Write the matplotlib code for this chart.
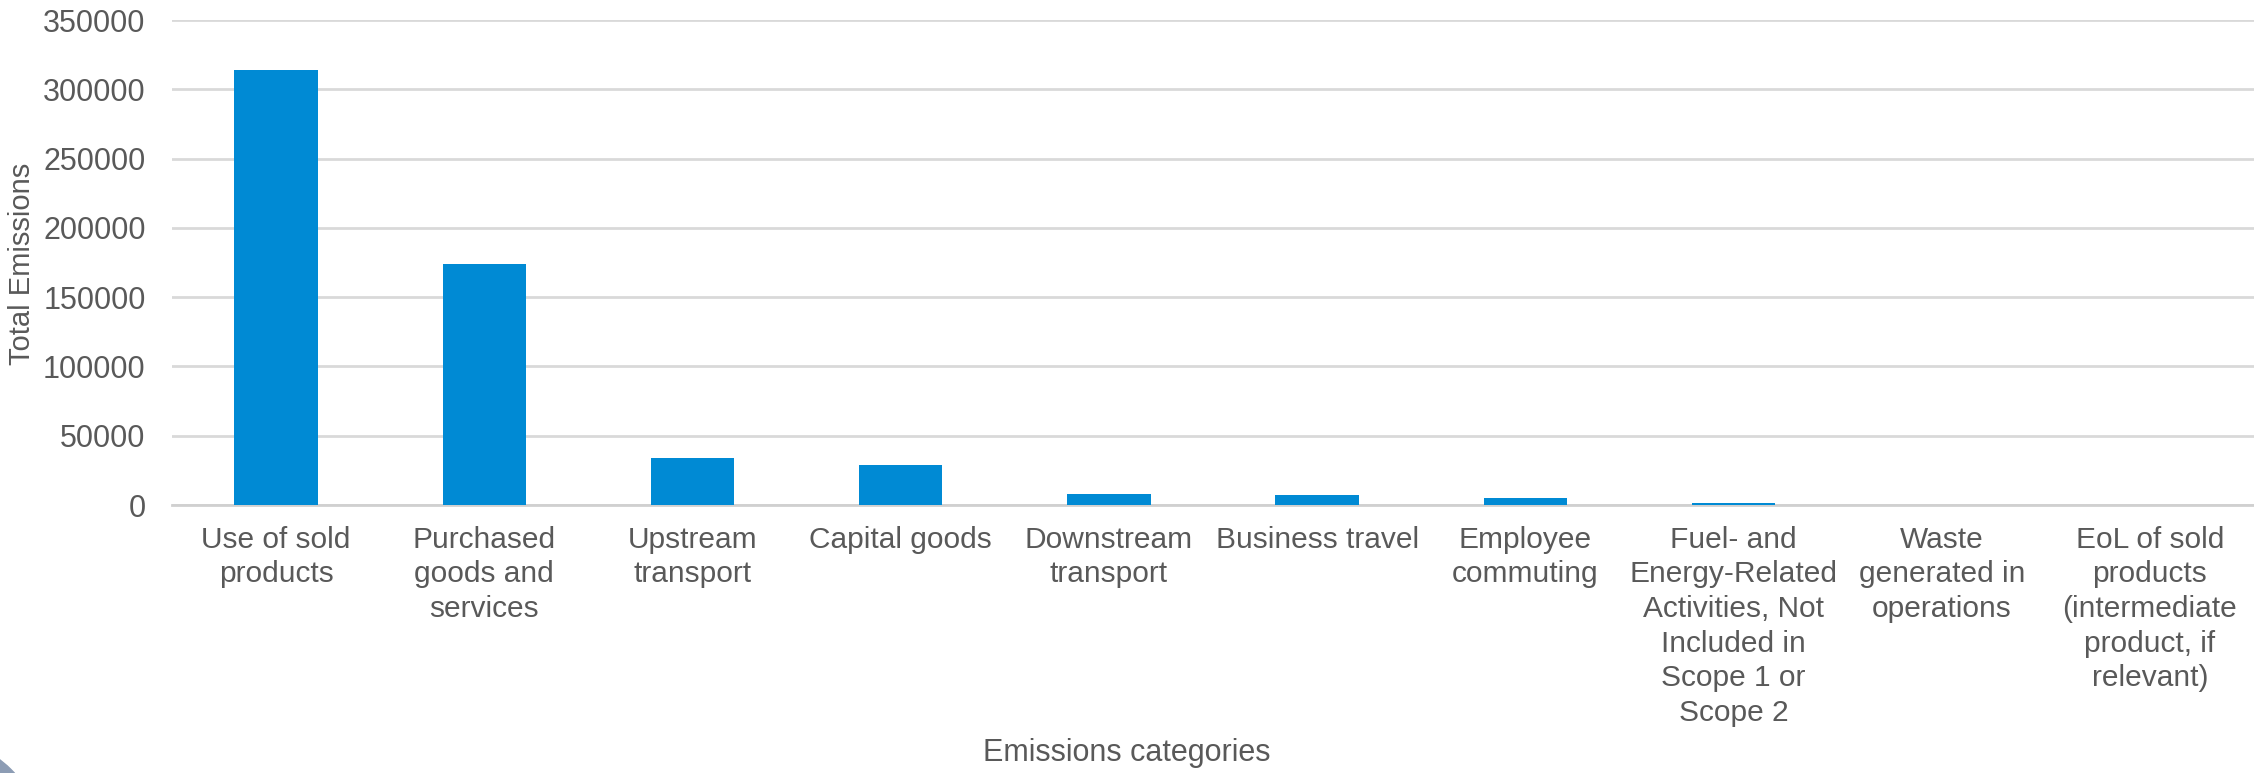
import matplotlib
matplotlib.use('Agg')
import matplotlib.pyplot as plt
from matplotlib.patches import Ellipse
import numpy as np

categories = ['Use of sold\nproducts', 'Purchased\ngoods and\nservices', 'Upstream\ntransport',
              'Capital goods', 'Downstream\ntransport', 'Business travel', 'Employee\ncommuting',
              'Fuel- and\nEnergy-Related\nActivities, Not\nIncluded in\nScope 1 or\nScope 2',
              'Waste\ngenerated in\noperations',
              'EoL of sold\nproducts\n(intermediate\nproduct, if\nrelevant)']
emissions = [314000, 174000, 34000, 29000, 7600, 7300, 5000, 1500, 200, 100]
yticks = [0, 50000, 100000, 150000, 200000, 250000, 300000, 350000]

plt.rcParams['font.family'] = ['Liberation Sans', 'DejaVu Sans']
txt = '#595959'
fs = 22

fig = plt.figure(figsize=(22.54, 7.73), dpi=100)
ax = fig.add_axes([0.0763, 0.3467, 0.9237, 0.6273])

x = np.arange(len(categories))
ax.bar(x, emissions, width=0.4, color='#008AD4', zorder=3)

ax.set_xlim(-0.5, len(categories) - 0.5)
ax.set_ylim(0, 350000)
ax.set_yticks(yticks)
ax.set_yticklabels([str(v) for v in yticks])
ax.set_xticks(x)
ax.set_xticklabels(categories, linespacing=1.3, fontsize=21.5)
ax.tick_params(axis='both', length=0, colors=txt)
ax.tick_params(axis='y', labelsize=fs, pad=19)
ax.tick_params(axis='x', pad=15)
ax.yaxis.grid(True, color='#d9d9d9', linewidth=2, zorder=0)

for s in ['top', 'right', 'left']:
    ax.spines[s].set_visible(False)
ax.spines['bottom'].set_color('#d0d0d0')
ax.spines['bottom'].set_linewidth(2)

# axis titles
fig.text(22 / 2254, 1 - 264 / 773, 'Total Emissions', fontsize=21, color=txt,
         rotation=90, ha='center', va='center')
fig.text(0.5, 0.026, 'Emissions categories', fontsize=fs, color=txt, ha='center', va='center')

# grey circle corner in the bottom-left
fig.patches.append(Ellipse((-60 / 2254, -67 / 773), 200 / 2254, 200 / 773,
                           transform=fig.transFigure, color='#8c9cb4', zorder=0))

plt.savefig('out.png', dpi=100)
